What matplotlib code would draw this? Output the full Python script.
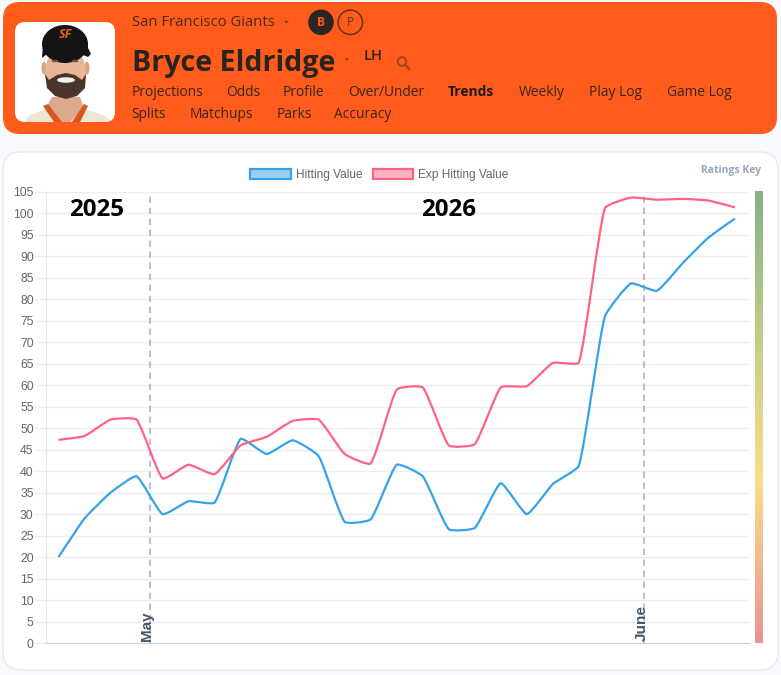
import numpy as np
import matplotlib
matplotlib.use("Agg")
import matplotlib.pyplot as plt
from matplotlib.patches import FancyBboxPatch, Circle, Ellipse, Polygon, Patch, Rectangle
from matplotlib.path import Path
from matplotlib.patches import PathPatch
from matplotlib.colors import LinearSegmentedColormap

hitting_value = [20, 29, 35, 38.8, 30, 33, 32.7, 47.5, 44, 47.2, 43.5, 28.2, 28.8, 41.5,
                 38.8, 26.5, 26.8, 37.2, 30, 37, 41.3, 76, 83.7, 82, 88.5, 94.5, 98.8]
exp_hitting_value = [47.3, 48.2, 52, 52, 38.3, 41.5, 39.3, 46, 48, 51.7, 52, 44, 41.8, 59,
                     59.5, 46, 46.3, 59.5, 59.8, 65.2, 65.3, 101.2, 103.7, 103.2, 103.4, 103, 101.4]
series_names = ["Hitting Value", "Exp Hitting Value"]
y_ticks = list(range(0, 106, 5))
month_labels = ["May", "June"]
month_positions = [3.5, 22.5]
year_labels = ["2025", "2026"]
year_positions = [1.48, 15.0]
nav_row1 = ["Projections", "Odds", "Profile", "Over/Under", "Trends", "Weekly", "Play Log", "Game Log"]
nav_row2 = ["Splits", "Matchups", "Parks", "Accuracy"]

W, H = 781, 675
UI = ["Open Sans", "DejaVu Sans"]
DARK = "#2a2420"
fig = plt.figure(figsize=(W / 100, H / 100), dpi=100, facecolor="#f8fafd")
bg = fig.add_axes([0, 0, 1, 1], zorder=0)
bg.set_xlim(0, W)
bg.set_ylim(H, 0)
bg.axis("off")


def rbox(x0, y0, x1, y1, r, **kw):
    p = FancyBboxPatch((x0 + r, y0 + r), x1 - x0 - 2 * r, y1 - y0 - 2 * r,
                       boxstyle=f"round,pad={r},rounding_size={r}", **kw)
    bg.add_patch(p)
    return p


# header and card
rbox(3, 2, 777, 134, 17, fc="#ff5c1c", ec="none")
rbox(3, 152, 778, 670, 18, fc="white", ec="#e6eaf1", lw=1)

# portrait
clip = rbox(15, 22, 115, 122, 10, fc="white", ec="none")
shapes = [
    Polygon([(24, 122), (30, 115), (50, 108), (82, 108), (103, 115), (113, 122)], fc="#efe6d4", ec="none"),
    Polygon([(52, 97), (80, 97), (84, 108), (70, 122), (62, 122), (46, 108)], fc="#dca98c", ec="none"),
    Polygon([(43, 106), (48, 104), (62, 122), (54, 122)], fc="#d9561f", ec="none"),
    Polygon([(88, 106), (84, 104), (72, 122), (80, 122)], fc="#d9561f", ec="none"),
    Ellipse((44, 68), 5, 13, fc="#d9a383", ec="none"),
    Ellipse((87, 68), 5, 13, fc="#d9a383", ec="none"),
    Ellipse((65.5, 72), 41, 50, fc="#e8b596", ec="none"),
    Polygon([(45, 74), (49, 80), (57, 75), (66, 73), (75, 75), (82, 80), (86, 74), (85, 88), (77, 96), (66, 99), (55, 96), (47, 88)],
            fc="#4a352a", ec="none"),
    Ellipse((66, 80), 18, 5.5, fc="#f4f1ea", ec="none"),
    Ellipse((65, 44), 46, 38, fc="#141414", ec="none"),
    Polygon([(42, 58), (43, 44), (88, 44), (88, 48), (91, 54), (88, 57), (70, 50), (52, 50)], fc="#141414", ec="none"),
    Ellipse((55, 61), 7, 2.5, fc="#6a5548", ec="none"),
    Ellipse((75, 61), 7, 2.5, fc="#6a5548", ec="none"),
]
for s in shapes:
    bg.add_patch(s)
    s.set_clip_path(clip)
bg.text(65, 35, "SF", color="#ee5a1c", fontsize=9, fontweight="bold", family=UI, ha="center", va="center", style="italic")

# header text
bg.text(131.5, 23, "San Francisco Giants", color="#4a2a1a", fontsize=10.75, family=UI, va="center")
bg.add_patch(Polygon([(284, 20.8), (289, 20.8), (286.5, 23.4)], fc="#7a3a1a", ec="none"))
bg.add_patch(Circle((321, 22.3), 12.8, fc="#2b2622", ec="none"))
bg.text(321, 22.8, "B", color="#ff5c1c", fontsize=8.6, fontweight="bold", family=UI, ha="center", va="center")
bg.add_patch(Circle((350.3, 22.3), 12.2, fc="none", ec="#63341c", lw=1.1))
bg.text(350.3, 22.8, "P", color="#63341c", fontsize=8.6, family=UI, ha="center", va="center")
bg.text(131.5, 63, "Bryce Eldridge", color=DARK, fontsize=20.6, fontweight="bold", family=UI, va="center")
bg.add_patch(Polygon([(344.5, 58.5), (349, 58.5), (346.8, 60.8)], fc="#7a3a1a", ec="none"))
bg.text(364, 56, "LH", color=DARK, fontsize=10.6, fontweight="semibold", family=UI, va="center")
bg.add_patch(Circle((402, 61.5), 4.3, fc="none", ec="#9c4a20", lw=1.4))
bg.plot([405.2, 409.5], [64.8, 69], color="#9c4a20", lw=1.7, solid_capstyle="round")

row1_x = [131.5, 226, 283, 348, 448, 519, 589, 667]
row2_x = [131.5, 190, 277, 334]
for s, x in zip(nav_row1, row1_x):
    bg.text(x, 92.5, s, color="#1c1a18" if s == "Trends" else "#33261f", fontsize=9.9,
            fontweight="bold" if s == "Trends" else "medium", family=UI, va="center")
for s, x in zip(nav_row2, row2_x):
    bg.text(x, 114.5, s, color="#33261f", fontsize=9.9, fontweight="medium", family=UI, va="center")

bg.text(761, 171, "Ratings Key", color="#9aa7ba", fontsize=7.5, fontweight="bold", family=UI, ha="right", va="center")

# ratings gradient
cmap = LinearSegmentedColormap.from_list("rk", [(0, "#e99393"), (0.36, "#f8de8a"), (0.65, "#c9cf87"), (1, "#83b186")])
bg.imshow(np.linspace(1, 0, 256)[:, None], cmap=cmap, vmin=0, vmax=1, aspect="auto",
          extent=(755, 763, 643.5, 192), zorder=1)
bg.set_xlim(0, W)
bg.set_ylim(H, 0)

# chart
L, R, T, B = 45.5, 749, 192, 643
ax = fig.add_axes([L / W, 1 - B / H, (R - L) / W, (B - T) / H], zorder=2)
ax.patch.set_alpha(0)
x = np.arange(len(hitting_value))
ax.set_xlim(-0.5, 26.54)
ax.set_ylim(0, 105)
PX = (R - L) / 27.04
PY = (B - T) / 105


def spline_path(xs, ys, t=0.15):
    """Bezier through the points, with control points set as Chart.js does it."""
    p = np.column_stack([xs, ys]).astype(float)
    v, c = [tuple(p[0])], [Path.MOVETO]
    scale = np.array([PX, PY])

    def ctrl(i):
        a, b, n = p[i - 1], p[i], p[i + 1]
        d1 = np.linalg.norm((b - a) * scale)
        d2 = np.linalg.norm((n - b) * scale)
        s1, s2 = d1 / (d1 + d2), d2 / (d1 + d2)
        return b - t * s1 * (n - a), b + t * s2 * (n - a)

    out = p[0]
    for i in range(len(p) - 1):
        inn, nxt = ctrl(i + 1) if i + 1 < len(p) - 1 else (p[i + 1], p[i + 1])
        v += [tuple(out), tuple(inn), tuple(p[i + 1])]
        c += [Path.CURVE4] * 3
        out = nxt
    return Path(v, c)


BLUE, RED = "#36a2eb", "#ff6384"
for vals, col in [(hitting_value, BLUE), (exp_hitting_value, RED)]:
    ax.add_patch(PathPatch(spline_path(x, vals), fc="none", ec=col, lw=1.6, zorder=4, capstyle="butt"))

ax.set_yticks(y_ticks)
ax.set_xticks([])
ax.grid(axis="y", color="#ebedf3", lw=1)
ax.set_axisbelow(True)
ax.tick_params(axis="y", length=8, width=1, color="#ebedf3", pad=0.5, labelsize=8.8, labelcolor="#666666")
for t in ax.get_yticklabels():
    t.set_family("Liberation Sans")
for s in ["top", "right"]:
    ax.spines[s].set_visible(False)
ax.spines["left"].set_color("#e3e6ec")
ax.spines["bottom"].set_color("#cfd1d6")

for pos, lab in zip(month_positions, month_labels):
    ax.axvline(pos, color="#a3acc0", lw=1.1, ls=(0, (4.2, 3)), zorder=3)
    ax.text(pos - 0.1, 0.4, lab, rotation=90, ha="center", va="bottom", color="#475569",
            fontsize=11, fontweight="bold", family="Liberation Sans", zorder=5)
for pos, lab in zip(year_positions, year_labels):
    ax.text(pos, 100.7, lab, ha="center", va="center", color="black", fontsize=17.4,
            fontweight="bold", family=UI, zorder=5)

handles = [Patch(fc="#9ad0f5", ec=BLUE, lw=1.6), Patch(fc="#ffb1c1", ec=RED, lw=1.6)]
fig.legend(handles, series_names, loc="center", bbox_to_anchor=(379.5 / W, 1 - 175 / H), frameon=False,
           ncols=2, labelcolor="#666666", handlelength=3.4, handleheight=1.0,
           handletextpad=0.42, columnspacing=0.85, borderpad=0, prop={"family": "Liberation Sans", "size": 8.6})

fig.savefig("out.png", dpi=100, facecolor=fig.get_facecolor())
